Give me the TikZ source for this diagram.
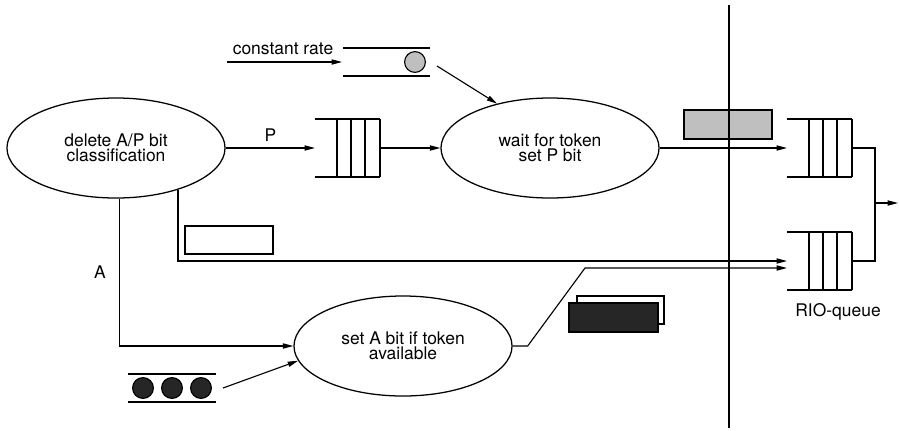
\documentclass[tikz,border=0pt]{standalone}
\usepackage{fontspec}
\setmainfont{TeX Gyre Heros}
\usetikzlibrary{positioning, shapes.geometric, arrows.meta, calc}

\tikzset{
  wire/.style={line width=0.8pt},
  chan/.style={line width=1.3pt},
  flow/.style={line width=0.8pt, -{Triangle[length=2.6mm,width=1.3mm]}},
  lbl/.style={font=\fontsize{12.4}{10.6}\selectfont},
  proc/.style={ellipse, draw, line width=0.9pt, minimum width=5.45cm, minimum height=2.5cm,
    inner sep=0pt, align=center, lbl},
  tok/.style={circle, draw, line width=0.8pt, minimum size=0.52cm, inner sep=0pt},
  fifo/.pic={
    \draw[wire] (0,-29) -- (65,-29) (0,29) -- (65,29);
    \foreach \v in {22,36,50,65} \draw[wire] (\v,-29) -- (\v,29);
    \coordinate (-in) at (0,0);
    \coordinate (-out) at (65,0);
  }
}

\begin{document}
\begin{tikzpicture}[x=0.025cm, y=-0.025cm]
\useasboundingbox (0,0) rectangle (899,430);

% processes
\node[proc] (del) at (116,148) {delete A/P bit\\classification};
\node[proc] (wait) at (550,148) {wait for token\\set P bit};
\node[proc] (aset) at (403,346) {set A bit if token\\available};

% queues
\pic (q) at (315,148) {fifo};
\pic (rioA) at (787,148) {fifo};
\pic (rioB) at (787,261) {fifo};
\node[lbl] (rio) at (838,312) {RIO-queue};

% packets
\draw[line width=1.1pt] (185,226) rectangle (273,254);
\draw[line width=1pt] (577,296) rectangle (664,324);
\filldraw[fill=black!85, line width=1pt] (569,303) rectangle (658,332);
\filldraw[fill=gray!50, line width=1pt] (684,110) rectangle (772,139);

% boundary
\draw[wire] (729,5) coordinate (bTop) -- (729,428) coordinate (bBot);

% token generator
\draw[chan] (343,48) -- (430,48) (343,76) -- (430,76);
\node[tok, fill=gray!50] (gt) at (415,62) {};
\node[lbl, anchor=base] (cr) at (283,54) {constant rate};
\coordinate (crIn) at (227,62);
\coordinate (crOut) at (342,62);
\draw[flow] (crIn) -- (crOut);
\draw[flow] ($(gt)+(22,4)$) -- (wait.140);

% token pool
\draw[chan] (128,374) -- (216,374) (128,402) -- (216,402);
\foreach \i/\x in {1/143,2/172,3/201}
  \node[tok, fill=black!85] (bt\i) at (\x,388) {};
\draw[flow] ($(bt3)+(22,0)$) -- (aset.188);

% flows
\draw[flow] (del.east) -- node[lbl, above=1pt] {P} (q-in);
\draw[flow] (q-out) -- (wait.west);
\draw[flow] (wait.east) -- (rioA-in);
\draw[flow] (del.-86) |- node[lbl, pos=0.25, left=6pt] {A} (aset.west);
\draw[flow] (del.-34) |- (rioB-in);
\draw[flow] (aset.east) -- ++(15,0) -- ($(rioB-in)+(-202,7)$) -- ($(rioB-in)+(0,7)$);

% output
\coordinate (join) at (875,203);
\coordinate (out) at (898,203);
\draw[wire] (rioA-out) -| (join) (rioB-out) -| (join);
\draw[flow] (join) -- (out);
\end{tikzpicture}
\end{document}
